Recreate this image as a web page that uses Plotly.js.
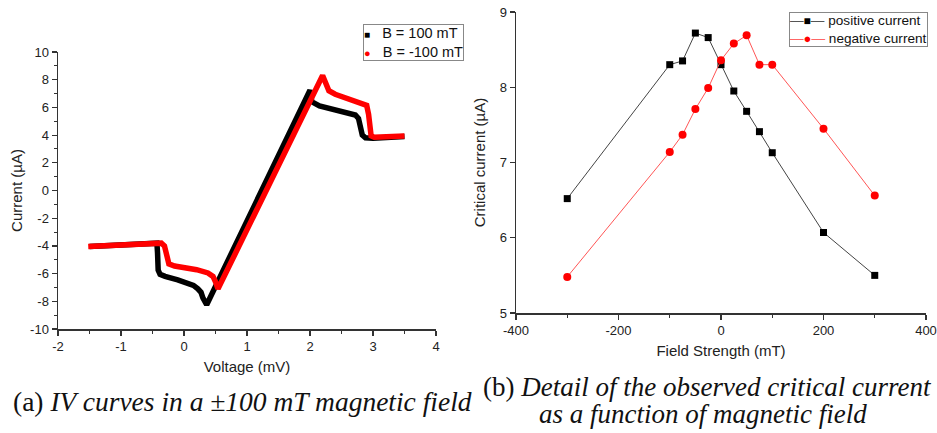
<!DOCTYPE html>
<html>
<head>
<meta charset="utf-8">
<script src="https://cdn.plot.ly/plotly-3.0.1.min.js"></script>
<style>html,body{margin:0;padding:0;background:#fff;}#chart{width:937px;height:433px;}</style>
</head>
<body>
<div id="chart"></div>
<script>
// ---- (a) IV curves ----
const ivPosV = [-1.5,-1.0,-0.6,-0.43,-0.42,-0.41,-0.38,-0.3,-0.1,0.05,0.15,0.22,0.27,0.3,0.33,0.36,2.0,2.03,2.15,2.4,2.6,2.72,2.77,2.8,2.83,2.88,3.0,3.5];
const ivPosI = [-4.05,-3.92,-3.82,-3.8,-4.5,-5.75,-6.05,-6.2,-6.45,-6.65,-6.85,-7.1,-7.35,-7.75,-8.15,-8.25,7.25,6.4,6.1,5.8,5.6,5.45,5.2,4.6,4.0,3.8,3.78,3.9];
const ivNegV = [-1.52,-1.0,-0.6,-0.36,-0.31,-0.28,-0.24,-0.15,0.0,0.2,0.38,0.46,0.5,0.54,2.2,2.25,2.3,2.4,2.6,2.8,2.9,2.93,2.95,2.97,3.02,3.5];
const ivNegI = [-4.05,-3.93,-3.84,-3.8,-4.0,-4.8,-5.3,-5.45,-5.55,-5.72,-5.95,-6.2,-6.6,-7.1,8.3,7.6,7.2,6.95,6.6,6.3,6.15,5.5,4.5,3.95,3.85,3.93];
const ivNames = ["B = 100 mT","B = -100 mT"];
const voltTicks = [-2,-1,0,1,2,3,4];
const voltTickText = ["-2","-1","0","1","2","3","4"];
const currTicks = [-10,-8,-6,-4,-2,0,2,4,6,8,10];
const currTickText = ["-10","-8","-6","-4","-2","0","2","4","6","8","10"];

// ---- (b) critical current vs field ----
const field = [-300,-100,-75,-50,-25,0,25,50,75,100,200,300];
const icPositive = [6.52,8.30,8.35,8.72,8.66,8.30,7.95,7.68,7.41,7.13,6.07,5.50];
const icNegative = [5.48,7.14,7.37,7.71,7.99,8.36,8.58,8.69,8.30,8.30,7.45,6.56];
const icNames = ["positive current","negative current"];
const fieldTicks = [-400,-200,0,200,400];
const fieldTickText = ["-400","-200","0","200","400"];
const icTicks = [5,6,7,8,9];
const icTickText = ["5","6","7","8","9"];

const W = 937, H = 433;
const sans = "'Liberation Sans', Arial, sans-serif";
const serif = "'Liberation Serif', 'DejaVu Serif', serif";
const axisCol = "#333333";
const titleFont = {family: sans, size: 15, color: "#222"};

const traces = [
  {x: ivPosV, y: ivPosI, mode: "lines", name: ivNames[0], line: {color: "#000000", width: 5.5}, xaxis: "x", yaxis: "y", showlegend: false, hoverinfo: "skip"},
  {x: ivNegV, y: ivNegI, mode: "lines", name: ivNames[1], line: {color: "#ff0000", width: 5.5}, xaxis: "x", yaxis: "y", showlegend: false, hoverinfo: "skip"},
  {x: field, y: icPositive, mode: "lines+markers", name: icNames[0], line: {color: "#444444", width: 1}, marker: {symbol: "square", size: 7, color: "#000000"}, xaxis: "x2", yaxis: "y2", showlegend: false},
  {x: field, y: icNegative, mode: "lines+markers", name: icNames[1], line: {color: "#ff5555", width: 1}, marker: {symbol: "circle", size: 8, color: "#ff0000"}, xaxis: "x2", yaxis: "y2", showlegend: false}
];

function ax(opts) {
  return Object.assign({
    showline: true, linecolor: axisCol, linewidth: 1.5, mirror: false,
    ticks: "outside", ticklen: 5, tickwidth: 1.2, tickcolor: axisCol,
    showgrid: false, zeroline: false, fixedrange: true, tickmode: "array",
    tickfont: {family: sans, size: 13, color: "#222"},
  }, opts);
}

// legends built as boxed text (compact rows like the original)
const legA = "<span style='color:#000;font-size:10px'>■</span>   " + ivNames[0] +
             "<br><span style='color:#ff0000;font-size:11px'>●</span>   " + ivNames[1];
const legB = "<span style='color:#555'>—</span><span style='color:#000;font-size:12px'>■</span><span style='color:#555'>—</span> " + icNames[0] +
             "<br><span style='color:#ff6666'>—</span><span style='color:#ff0000;font-size:13px'>●</span><span style='color:#ff6666'>—</span> " + icNames[1];

const layout = {
  width: W, height: H,
  margin: {l: 0, r: 0, t: 0, b: 0},
  paper_bgcolor: "#ffffff", plot_bgcolor: "#ffffff",
  font: {family: sans, color: "#222"},
  showlegend: false,
  xaxis: ax({domain: [58/W, 436/W], anchor: "y", range: [-2, 4], tickvals: voltTicks, ticktext: voltTickText,
    minor: {dtick: 0.5, ticks: "outside", ticklen: 3, tickcolor: axisCol, tickwidth: 1},
    title: {text: "Voltage (mV)", font: titleFont, standoff: 8}}),
  yaxis: ax({domain: [104/H, 381/H], anchor: "x", range: [-10, 10], tickvals: currTicks, ticktext: currTickText,
    minor: {dtick: 1, ticks: "outside", ticklen: 3, tickcolor: axisCol, tickwidth: 1},
    title: {text: "Current (µA)", font: titleFont, standoff: 4}}),
  xaxis2: ax({domain: [516/W, 926/W], anchor: "y2", range: [-400, 400], tickvals: fieldTicks, ticktext: fieldTickText,
    minor: {dtick: 100, ticks: "outside", ticklen: 3, tickcolor: axisCol, tickwidth: 1},
    title: {text: "Field Strength (mT)", font: titleFont, standoff: 8}}),
  yaxis2: ax({domain: [120/H, 421/H], anchor: "x2", range: [5, 9], tickvals: icTicks, ticktext: icTickText,
    title: {text: "Critical current (µA)", font: titleFont, standoff: 10}}),
  annotations: [
    {text: legA, xref: "paper", yref: "paper", x: 363/W, y: 1 - 24/H, xanchor: "left", yanchor: "top",
     align: "left", showarrow: false, bgcolor: "#ffffff", bordercolor: "#888888", borderwidth: 1, borderpad: 0,
     font: {family: sans, size: 14.5, color: "#111"}},
    {text: legB, xref: "paper", yref: "paper", x: 789/W, y: 1 - 12/H, xanchor: "left", yanchor: "top",
     align: "left", showarrow: false, bgcolor: "#ffffff", bordercolor: "#888888", borderwidth: 1, borderpad: 0,
     font: {family: sans, size: 13.6, color: "#111"}},
    {text: "(a) <i>IV curves in a ±100 mT magnetic field</i>", xref: "paper", yref: "paper",
     x: 243/W, y: 1 - 401/H, xanchor: "center", yanchor: "middle", showarrow: false,
     font: {family: serif, size: 27.5, color: "#111"}},
    {text: "(b) <i>Detail of the observed critical current</i>", xref: "paper", yref: "paper",
     x: 707/W, y: 1 - 387/H, xanchor: "center", yanchor: "middle", showarrow: false,
     font: {family: serif, size: 27, color: "#111"}},
    {text: "<i>as a function of magnetic field</i>", xref: "paper", yref: "paper",
     x: 703/W, y: 1 - 414/H, xanchor: "center", yanchor: "middle", showarrow: false,
     font: {family: serif, size: 27, color: "#111"}}
  ]
};

Plotly.newPlot("chart", traces, layout, {displayModeBar: false, staticPlot: true});
</script>
</body>
</html>
